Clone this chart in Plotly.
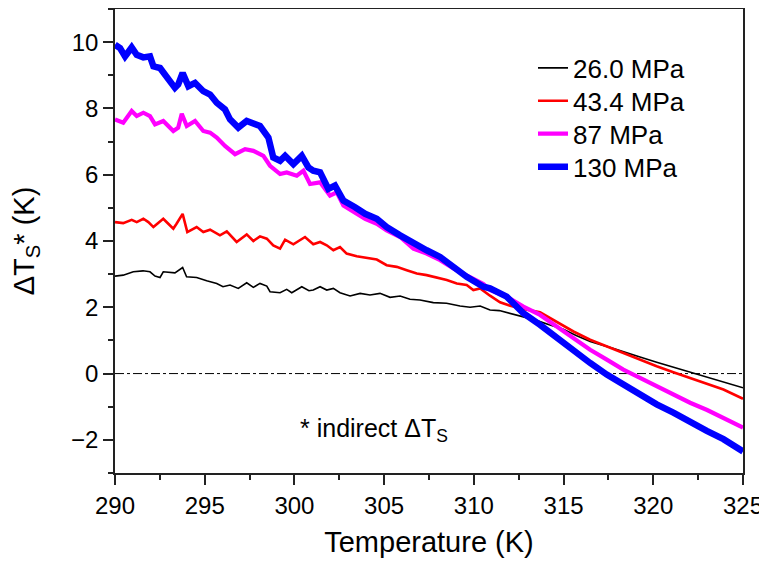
import plotly.graph_objects as go

# ---------------- data ----------------
series_names = ["26.0 MPa", "43.4 MPa", "87 MPa", "130 MPa"]

t_26 = [290.0, 290.46, 291.02, 291.56, 291.95, 292.23, 292.51, 292.69, 293.34, 293.77,
        293.99, 294.55, 295.11, 295.67, 296.02, 296.41, 296.87, 297.34, 297.71, 298.08,
        298.46, 298.64, 299.2, 299.57, 299.85, 300.41, 300.81, 301.05, 301.43, 301.8,
        302.17, 302.54, 303.1, 303.66, 304.21, 304.77, 305.33, 305.89, 306.44, 307.0,
        307.74, 308.48, 309.23, 309.79, 310.35, 310.9, 311.42, 312.02, 312.67, 313.4,
        314.2, 314.99, 315.7, 316.48, 317.4, 318.33, 319.26, 320.19, 321.12, 322.05,
        323.0, 323.91, 325.0]
dT_26 = [2.94, 2.97, 3.07, 3.10, 3.07, 2.94, 2.90, 3.07, 3.04, 3.20,
         2.92, 2.90, 2.80, 2.72, 2.62, 2.67, 2.57, 2.74, 2.60, 2.72,
         2.64, 2.47, 2.44, 2.54, 2.44, 2.62, 2.50, 2.52, 2.62, 2.52,
         2.57, 2.44, 2.34, 2.42, 2.37, 2.42, 2.30, 2.34, 2.24, 2.22,
         2.14, 2.12, 2.04, 2.00, 2.04, 1.92, 1.90, 1.82, 1.72, 1.62,
         1.47, 1.34, 1.15, 0.97, 0.82, 0.67, 0.50, 0.34, 0.19, 0.04,
         -0.11, -0.26, -0.43]

t_43 = [290.0, 290.46, 290.93, 291.21, 291.58, 291.86, 292.14, 292.69, 292.97, 293.25,
        293.43, 293.77, 294.03, 294.55, 294.92, 295.3, 295.85, 296.23, 296.78, 297.34,
        297.71, 298.08, 298.46, 298.82, 299.2, 299.48, 299.94, 300.31, 300.59, 301.05,
        301.43, 301.8, 302.17, 302.54, 302.91, 303.47, 304.03, 304.59, 305.14, 305.7,
        306.26, 306.82, 307.37, 307.93, 308.49, 309.05, 309.6, 309.97, 310.35, 310.9,
        311.46, 312.02, 312.76, 313.69, 314.62, 315.55, 316.48, 317.4, 318.33, 319.26,
        320.19, 321.12, 322.05, 323.0, 323.91, 325.0]
dT_43 = [4.57, 4.54, 4.64, 4.57, 4.67, 4.57, 4.42, 4.67, 4.52, 4.37,
         4.52, 4.82, 4.27, 4.42, 4.27, 4.34, 4.17, 4.29, 3.97, 4.20,
         4.00, 4.14, 4.07, 3.87, 3.77, 4.04, 3.90, 4.02, 4.12, 3.90,
         3.97, 3.87, 3.72, 3.82, 3.62, 3.54, 3.50, 3.44, 3.27, 3.22,
         3.12, 3.02, 2.97, 2.90, 2.82, 2.72, 2.67, 2.52, 2.57, 2.35,
         2.15, 2.05, 1.95, 1.85, 1.57, 1.27, 1.02, 0.82, 0.62, 0.42,
         0.22, 0.04, -0.13, -0.30, -0.48, -0.76]

t_87 = [290.0, 290.46, 290.93, 291.21, 291.58, 291.95, 292.23, 292.69, 293.25, 293.52,
        293.72, 294.0, 294.46, 294.92, 295.3, 295.67, 296.13, 296.69, 297.25, 297.71,
        298.27, 298.64, 299.2, 299.57, 300.13, 300.5, 300.87, 301.43, 301.98, 302.36,
        302.73, 303.38, 303.94, 304.59, 305.14, 305.89, 306.63, 307.37, 308.12, 308.86,
        309.6, 310.53, 310.9, 311.83, 312.76, 313.69, 314.62, 315.55, 316.48, 317.41,
        318.33, 319.26, 320.19, 321.12, 322.05, 323.0, 323.91, 325.0]
dT_87 = [7.67, 7.57, 7.92, 7.77, 7.87, 7.77, 7.52, 7.62, 7.32, 7.42,
         7.84, 7.47, 7.62, 7.32, 7.27, 7.12, 6.87, 6.62, 6.77, 6.72,
         6.57, 6.27, 6.02, 6.07, 5.97, 6.12, 5.72, 5.77, 5.37, 5.47,
         5.07, 4.87, 4.67, 4.52, 4.32, 4.12, 3.77, 3.62, 3.42, 3.17,
         2.95, 2.70, 2.52, 2.32, 2.02, 1.77, 1.42, 1.07, 0.72, 0.42,
         0.12, -0.13, -0.38, -0.63, -0.88, -1.10, -1.33, -1.63]

t_130 = [290.0, 290.28, 290.56, 290.93, 291.21, 291.58, 291.95, 292.14, 292.51, 292.97,
         293.34, 293.52, 293.77, 294.09, 294.46, 294.92, 295.3, 295.67, 296.13, 296.41,
         296.87, 297.34, 297.71, 298.08, 298.55, 298.82, 299.2, 299.48, 299.94, 300.41,
         300.78, 301.05, 301.43, 301.89, 302.26, 302.73, 303.38, 303.94, 304.59, 305.14,
         305.89, 306.63, 307.37, 308.12, 308.86, 309.6, 310.53, 310.9, 311.83, 312.76,
         313.69, 314.62, 315.55, 316.48, 317.41, 318.33, 319.26, 320.19, 321.12, 322.05,
         322.98, 323.91, 325.0]
dT_130 = [9.92, 9.82, 9.57, 9.84, 9.62, 9.54, 9.57, 9.27, 9.22, 8.92,
          8.62, 8.72, 9.07, 8.67, 8.77, 8.52, 8.42, 8.17, 7.97, 7.67,
          7.42, 7.62, 7.57, 7.47, 7.12, 6.52, 6.42, 6.57, 6.32, 6.57,
          6.22, 6.12, 6.07, 5.57, 5.67, 5.22, 5.02, 4.82, 4.67, 4.42,
          4.17, 3.92, 3.72, 3.52, 3.22, 2.92, 2.62, 2.57, 2.32, 1.82,
          1.47, 1.07, 0.67, 0.32, -0.03, -0.33, -0.63, -0.93, -1.18, -1.48,
          -1.73, -1.98, -2.35]

x_ticks = [290, 295, 300, 305, 310, 315, 320, 325]
y_ticks = [-2, 0, 2, 4, 6, 8, 10]

# ---------------- styling ----------------
FONT = "Arial, Liberation Sans, sans-serif"
colors = ["#000000", "#FF0000", "#FF00FF", "#0000FF"]
widths = [1.6, 2.6, 4.2, 6.5]
xs = [t_26, t_43, t_87, t_130]
ys = [dT_26, dT_43, dT_87, dT_130]
legend_ids = ["legend", "legend2", "legend3", "legend4"]
legend_y = [0.873, 0.802, 0.731, 0.660]

fig = go.Figure()
for name, x, y, c, w, lg in zip(series_names, xs, ys, colors, widths, legend_ids):
    fig.add_trace(go.Scatter(x=x, y=y, mode="lines", name=name, legend=lg,
                             line=dict(color=c, width=w)))

# dash-dot zero reference line
fig.add_shape(type="line", xref="x domain", x0=0, x1=1, yref="y", y0=0, y1=0,
              line=dict(color="black", width=1, dash="dashdot"), layer="below")

fig.add_annotation(text="* indirect ΔT<sub>S</sub>", xref="paper", yref="paper",
                   x=0.291, y=0.093, xanchor="left", yanchor="middle",
                   showarrow=False, font=dict(family=FONT, size=25, color="black"))

axis_common = dict(showline=True, linecolor="#222222", linewidth=1.5, mirror=True,
                   ticks="outside", ticklen=10, tickwidth=1.5, tickcolor="#222222",
                   showgrid=False, zeroline=False,
                   tickfont=dict(family=FONT, size=24, color="black"))

fig.update_xaxes(range=[290, 325], tickvals=x_ticks,
                 minor=dict(ticks="outside", ticklen=5, tickwidth=1.5, tickcolor="#222222",
                            dtick=2.5, tick0=290, showgrid=False),
                 title=dict(text="Temperature (K)", font=dict(family=FONT, size=29, color="black"),
                            standoff=14),
                 **axis_common)
fig.update_yaxes(range=[-3, 11], tickvals=y_ticks,
                 minor=dict(ticks="outside", ticklen=5, tickwidth=1.5, tickcolor="#222222",
                            dtick=1, tick0=0, showgrid=False),
                 title=dict(text="ΔT<sub>S</sub>* (K)", font=dict(family=FONT, size=29, color="black"),
                            standoff=33),
                 **axis_common)

legend_common = dict(x=0.6656, xanchor="left", yanchor="middle",
                     bgcolor="rgba(0,0,0,0)", borderwidth=0,
                     font=dict(family=FONT, size=26, color="black"))
layout_legends = {lg: dict(y=ly, **legend_common) for lg, ly in zip(legend_ids, legend_y)}

# page body adds an 8px offset, so the figure is 8px smaller than the window
fig.update_layout(
    width=759, height=555,
    margin=dict(l=107, r=24, t=1, b=90, autoexpand=False),
    plot_bgcolor="white", paper_bgcolor="white",
    font=dict(family=FONT, color="black"),
    showlegend=True,
    **layout_legends,
)

fig.write_html("out.html")
